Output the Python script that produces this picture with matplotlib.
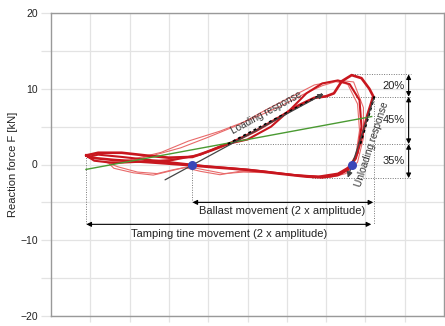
import numpy as np
import matplotlib.pyplot as plt

plt.rcParams["font.family"] = ["Liberation Sans", "DejaVu Sans"]

# Ciclos de fuerza-desplazamiento (desplazamiento en divisiones de la rejilla, fuerza en kN)
thick_a_x = [0.9, 1.2, 1.8, 2.4, 3.0, 3.6, 4.1, 4.6, 5.2, 5.8, 6.3, 6.7, 7.0, 7.2, 7.4,
             7.65, 7.9, 8.1, 8.2, 8.05, 7.9, 7.75, 7.55, 7.3, 6.9, 6.5, 5.8, 5.0, 4.1,
             3.3, 2.5, 1.6, 1.0, 0.9]
thick_a_y = [1.2, 1.55, 1.55, 1.2, 0.9, 1.0, 1.9, 2.9, 4.4, 6.2, 7.8, 8.8, 9.0, 9.4, 11.0,
             11.8, 11.4, 10.0, 9.0, 6.5, 3.5, 0.8, -0.7, -1.4, -1.7, -1.6, -1.2, -0.7, -0.35,
             0.0, 0.3, 0.6, 0.9, 1.2]

thick_b_x = [0.95, 1.1, 1.6, 2.4, 3.1, 3.8, 4.4, 5.0, 5.6, 6.1, 6.5, 6.9, 7.3, 7.6, 7.85,
             7.9, 7.8, 7.6, 7.3, 6.8, 6.2, 5.4, 4.6, 3.9, 3.2, 2.5, 1.8, 1.2, 0.95]
thick_b_y = [1.0, 0.5, 0.2, 0.4, 0.6, 1.3, 2.6, 3.3, 5.0, 7.3, 9.4, 10.7, 11.1, 10.6, 8.5,
             5.0, 1.5, -0.3, -1.2, -1.6, -1.4, -0.9, -0.5, -0.2, 0.2, 0.6, 1.0, 1.3, 1.0]

thin_a_x = [1.5, 1.9, 2.6, 3.3, 4.0, 4.8, 5.5, 6.1, 6.7, 7.2, 7.55, 7.8, 7.85, 7.75, 7.45,
            7.0, 6.3, 5.5, 4.8, 4.3, 3.8, 3.4, 3.0, 2.6, 2.1, 1.6, 1.5]
thin_a_y = [0.0, 0.4, 1.2, 2.2, 3.6, 5.3, 7.3, 8.9, 10.5, 11.0, 10.6, 8.0, 4.5, 1.0, -1.0,
            -1.6, -1.4, -1.0, -0.9, -1.35, -0.9, -0.4, -0.9, -1.4, -1.1, -0.5, 0.0]

thin_b_x = [1.4, 2.0, 2.8, 3.5, 4.3, 5.1, 5.8, 6.4, 6.9, 7.35, 7.7, 7.95, 7.95, 7.8, 7.5,
            7.1, 6.4, 5.6, 4.9, 4.4, 3.9, 3.5, 3.1, 2.7, 2.2, 1.7, 1.4]
thin_b_y = [0.3, 0.6, 1.6, 3.1, 4.4, 6.0, 7.6, 9.2, 10.4, 11.1, 10.9, 7.5, 3.5, 0.3, -1.2,
            -1.7, -1.5, -1.1, -1.0, -1.2, -0.7, -0.3, -0.7, -1.2, -1.0, -0.3, 0.3]

# Rectas de referencia
green_x = [0.89, 8.16]
green_y = [-0.65, 6.33]
loading_x = [2.84, 7.0]
loading_y = [-2.2, 9.5]
loading_dash_x = [4.5, 6.9]
loading_dash_y = [2.7, 9.3]
unloading_x = [8.23, 7.53]
unloading_y = [9.0, -2.1]
unloading_dash_x = [8.23, 7.86]
unloading_dash_y = [9.0, 2.5]

# Puntos de inversión del balasto
dots_x = [3.6, 7.65]
dots_y = [-0.1, -0.1]

# Niveles de la fuerza para el reparto porcentual
levels = [11.9, 8.95, 2.7, -1.8]
level_starts = [7.65, 6.94, 4.7, 6.64]
pct_labels = ["20%", "45%", "35%"]

tine_left, tine_right, tine_y = 0.9, 8.15, -7.9
ballast_left, ballast_right, ballast_y = 3.6, 8.2, -5.0

RED = "#c8161e"
RED_LIGHT = "#e86a6a"
GRID = "#e3e3e3"

fig = plt.figure(figsize=(4.45, 3.26), dpi=100)
ax = fig.add_axes([51 / 445, 10 / 326, 393 / 445, 303 / 326])

ax.set_xlim(0, 10)
ax.set_ylim(-20, 20)
ax.set_xticks(np.arange(1, 10))
ax.set_xticklabels([])
ax.set_yticks([-20, -10, 0, 10, 20])
ax.set_yticks([-15, -5, 5, 15], minor=True)
ax.grid(True, which="both", color=GRID, linewidth=0.9)
ax.tick_params(axis="both", which="both", color=GRID, length=7, width=0.9, pad=2.5,
               labelsize=7.5, labelcolor="#222222")
ax.tick_params(axis="x", length=4)
for sp in ax.spines.values():
    sp.set_color("#999999")
    sp.set_linewidth(1.0)
ax.set_axisbelow(True)
ax.set_ylabel("Reaction force F [kN]", fontsize=8, color="#222222")
ax.yaxis.set_label_coords(-0.084, 0.5)

# Lineas de cota punteadas
dot_kw = dict(color="#777777", linestyle=(0, (1, 1.5)), linewidth=0.7)
ax.plot([tine_left, tine_left], [1.2, tine_y], **dot_kw)
ax.plot([ballast_left, ballast_left], [-0.1, ballast_y], **dot_kw)
ax.plot([8.23, 8.23], [9.0, tine_y], **dot_kw)
for lv, x0 in zip(levels, level_starts):
    ax.plot([x0, 9.15], [lv, lv], **dot_kw)

# Ciclos
ax.plot(thin_a_x, thin_a_y, color=RED_LIGHT, linewidth=0.8)
ax.plot(thin_b_x, thin_b_y, color=RED_LIGHT, linewidth=0.8)
ax.plot(thick_b_x, thick_b_y, color=RED, linewidth=1.5)
ax.plot(thick_a_x, thick_a_y, color=RED, linewidth=1.9)

ax.plot(green_x, green_y, color="#4a9a32", linewidth=1.0)

# Respuestas de carga y descarga
arrow_kw = dict(arrowstyle="-|>", color="#444444", lw=0.9, mutation_scale=8)
ax.annotate("", xy=(loading_x[1], loading_y[1]), xytext=(loading_x[0], loading_y[0]),
            arrowprops=arrow_kw)
ax.annotate("", xy=(unloading_x[1], unloading_y[1]), xytext=(unloading_x[0], unloading_y[0]),
            arrowprops=arrow_kw)
ax.plot(loading_dash_x, loading_dash_y, color="black", linewidth=1.4, linestyle=(0, (1.5, 1.5)))
ax.plot(unloading_dash_x, unloading_dash_y, color="black", linewidth=1.4, linestyle=(0, (1.5, 1.5)))

ax.scatter(dots_x, dots_y, s=30, color="#3a47b8", zorder=5)

ax.text(5.48, 6.85, "Loading response", rotation=28.5, fontsize=7.2, color="#333333",
        ha="center", va="center", rotation_mode="anchor")
ax.text(8.16, 2.6, "Unloading response", rotation=72, fontsize=7.2, color="#333333",
        ha="center", va="center", rotation_mode="anchor")

# Amplitudes
dim_kw = dict(arrowstyle="<|-|>", color="black", lw=0.8, mutation_scale=7,
              shrinkA=0, shrinkB=0)
ax.annotate("", xy=(tine_left, tine_y), xytext=(tine_right, tine_y), arrowprops=dim_kw)
ax.annotate("", xy=(ballast_left, ballast_y), xytext=(ballast_right, ballast_y), arrowprops=dim_kw)
ax.text(5.88, -6.2, "Ballast movement (2 x amplitude)", fontsize=8, color="#222222",
        ha="center", va="center")
ax.text(4.53, -9.2, "Tamping tine movement (2 x amplitude)", fontsize=8, color="#222222",
        ha="center", va="center")

for top, bot, lab in zip(levels[:-1], levels[1:], pct_labels):
    ax.annotate("", xy=(9.1, top), xytext=(9.1, bot), arrowprops=dim_kw)
    ax.text(8.72, (top + bot) / 2, lab, fontsize=8, color="#222222", ha="center", va="center")

fig.savefig("out.png", dpi=100)
